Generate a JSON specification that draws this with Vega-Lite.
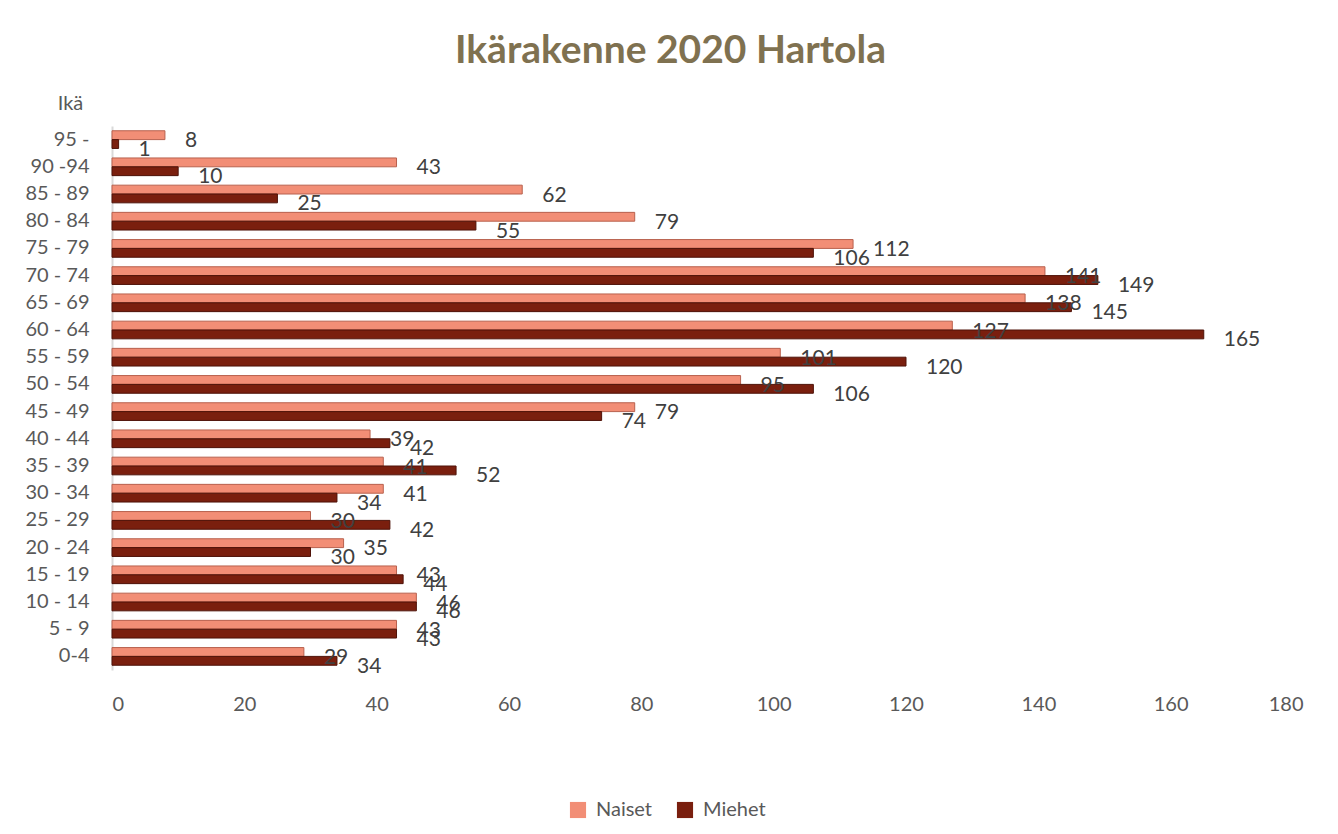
{
  "$schema": "https://vega.github.io/schema/vega-lite/v6.json",
  "width": 1191,
  "height": 544,
  "autosize": {"type": "none"},
  "padding": {"left": 112, "top": 126, "right": 35, "bottom": 164},
  "background": "white",
  "title": {
    "text": "Ikärakenne 2020 Hartola",
    "font": "Lato",
    "fontSize": 39,
    "fontWeight": "bold",
    "color": "#7F7150",
    "anchor": "middle",
    "dx": -37,
    "offset": 22
  },
  "data": {
    "values": [
      {"ika": "0-4", "sukupuoli": "Naiset", "lkm": 29},
      {"ika": "0-4", "sukupuoli": "Miehet", "lkm": 34},
      {"ika": "5 - 9", "sukupuoli": "Naiset", "lkm": 43},
      {"ika": "5 - 9", "sukupuoli": "Miehet", "lkm": 43},
      {"ika": "10 - 14", "sukupuoli": "Naiset", "lkm": 46},
      {"ika": "10 - 14", "sukupuoli": "Miehet", "lkm": 46},
      {"ika": "15 - 19", "sukupuoli": "Naiset", "lkm": 43},
      {"ika": "15 - 19", "sukupuoli": "Miehet", "lkm": 44},
      {"ika": "20 - 24", "sukupuoli": "Naiset", "lkm": 35},
      {"ika": "20 - 24", "sukupuoli": "Miehet", "lkm": 30},
      {"ika": "25 - 29", "sukupuoli": "Naiset", "lkm": 30},
      {"ika": "25 - 29", "sukupuoli": "Miehet", "lkm": 42},
      {"ika": "30 - 34", "sukupuoli": "Naiset", "lkm": 41},
      {"ika": "30 - 34", "sukupuoli": "Miehet", "lkm": 34},
      {"ika": "35 - 39", "sukupuoli": "Naiset", "lkm": 41},
      {"ika": "35 - 39", "sukupuoli": "Miehet", "lkm": 52},
      {"ika": "40 - 44", "sukupuoli": "Naiset", "lkm": 39},
      {"ika": "40 - 44", "sukupuoli": "Miehet", "lkm": 42},
      {"ika": "45 - 49", "sukupuoli": "Naiset", "lkm": 79},
      {"ika": "45 - 49", "sukupuoli": "Miehet", "lkm": 74},
      {"ika": "50 - 54", "sukupuoli": "Naiset", "lkm": 95},
      {"ika": "50 - 54", "sukupuoli": "Miehet", "lkm": 106},
      {"ika": "55 - 59", "sukupuoli": "Naiset", "lkm": 101},
      {"ika": "55 - 59", "sukupuoli": "Miehet", "lkm": 120},
      {"ika": "60 - 64", "sukupuoli": "Naiset", "lkm": 127},
      {"ika": "60 - 64", "sukupuoli": "Miehet", "lkm": 165},
      {"ika": "65 - 69", "sukupuoli": "Naiset", "lkm": 138},
      {"ika": "65 - 69", "sukupuoli": "Miehet", "lkm": 145},
      {"ika": "70 - 74", "sukupuoli": "Naiset", "lkm": 141},
      {"ika": "70 - 74", "sukupuoli": "Miehet", "lkm": 149},
      {"ika": "75 - 79", "sukupuoli": "Naiset", "lkm": 112},
      {"ika": "75 - 79", "sukupuoli": "Miehet", "lkm": 106},
      {"ika": "80 - 84", "sukupuoli": "Naiset", "lkm": 79},
      {"ika": "80 - 84", "sukupuoli": "Miehet", "lkm": 55},
      {"ika": "85 - 89", "sukupuoli": "Naiset", "lkm": 62},
      {"ika": "85 - 89", "sukupuoli": "Miehet", "lkm": 25},
      {"ika": "90 -94", "sukupuoli": "Naiset", "lkm": 43},
      {"ika": "90 -94", "sukupuoli": "Miehet", "lkm": 10},
      {"ika": "95 -", "sukupuoli": "Naiset", "lkm": 8},
      {"ika": "95 -", "sukupuoli": "Miehet", "lkm": 1}
    ]
  },
  "encoding": {
    "y": {
      "field": "ika",
      "type": "nominal",
      "sort": ["95 -", "90 -94", "85 - 89", "80 - 84", "75 - 79", "70 - 74", "65 - 69", "60 - 64", "55 - 59", "50 - 54", "45 - 49", "40 - 44", "35 - 39", "30 - 34", "25 - 29", "20 - 24", "15 - 19", "10 - 14", "5 - 9", "0-4"],
      "scale": {"paddingInner": 0.35, "paddingOuter": 0.175},
      "axis": {
        "title": "Ikä",
        "titleAngle": 0,
        "titleX": -42,
        "titleY": -23,
        "titleAlign": "center",
        "titleBaseline": "middle",
        "titleFont": "Lato",
        "titleFontSize": 20,
        "titleFontWeight": "normal",
        "titleColor": "#595959",
        "labelFont": "Lato",
        "labelFontSize": 20,
        "labelColor": "#595959",
        "labelPadding": 23,
        "ticks": false,
        "domainColor": "#D9D9D9",
        "domainWidth": 2,
        "grid": false
      }
    },
    "yOffset": {
      "field": "sukupuoli",
      "type": "nominal",
      "sort": ["Naiset", "Miehet"],
      "scale": {"paddingInner": 0}
    },
    "x": {
      "field": "lkm",
      "type": "quantitative",
      "scale": {"domain": [0, 180], "nice": false},
      "axis": {
        "title": null,
        "values": [0, 20, 40, 60, 80, 100, 120, 140, 160, 180],
        "labelFont": "Lato",
        "labelFontSize": 20,
        "labelColor": "#595959",
        "labelPadding": 24,
        "ticks": false,
        "domain": false,
        "grid": false
      }
    }
  },
  "layer": [
    {
      "mark": {"type": "bar", "strokeWidth": 1},
      "encoding": {
        "color": {
          "field": "sukupuoli",
          "type": "nominal",
          "sort": ["Naiset", "Miehet"],
          "scale": {"domain": ["Naiset", "Miehet"], "range": ["#F28E76", "#7A1F0E"]},
          "legend": {
            "title": null,
            "orient": "none",
            "direction": "horizontal",
            "legendX": 456,
            "legendY": 674,
            "symbolType": "square",
            "symbolSize": 260,
            "symbolStrokeWidth": 0,
            "labelFont": "Lato",
            "labelFontSize": 20,
            "labelColor": "#595959",
            "columnPadding": 22,
            "labelOffset": 8
          }
        },
        "stroke": {
          "field": "sukupuoli",
          "type": "nominal",
          "scale": {"domain": ["Naiset", "Miehet"], "range": ["#B8614E", "#4E1208"]},
          "legend": null
        }
      }
    },
    {
      "mark": {
        "type": "text",
        "align": "left",
        "baseline": "middle",
        "dx": 20,
        "dy": 6,
        "font": "Lato",
        "fontSize": 21,
        "color": "#404040"
      },
      "encoding": {
        "text": {"field": "lkm", "type": "quantitative"}
      }
    }
  ],
  "config": {
    "view": {"stroke": null}
  }
}
